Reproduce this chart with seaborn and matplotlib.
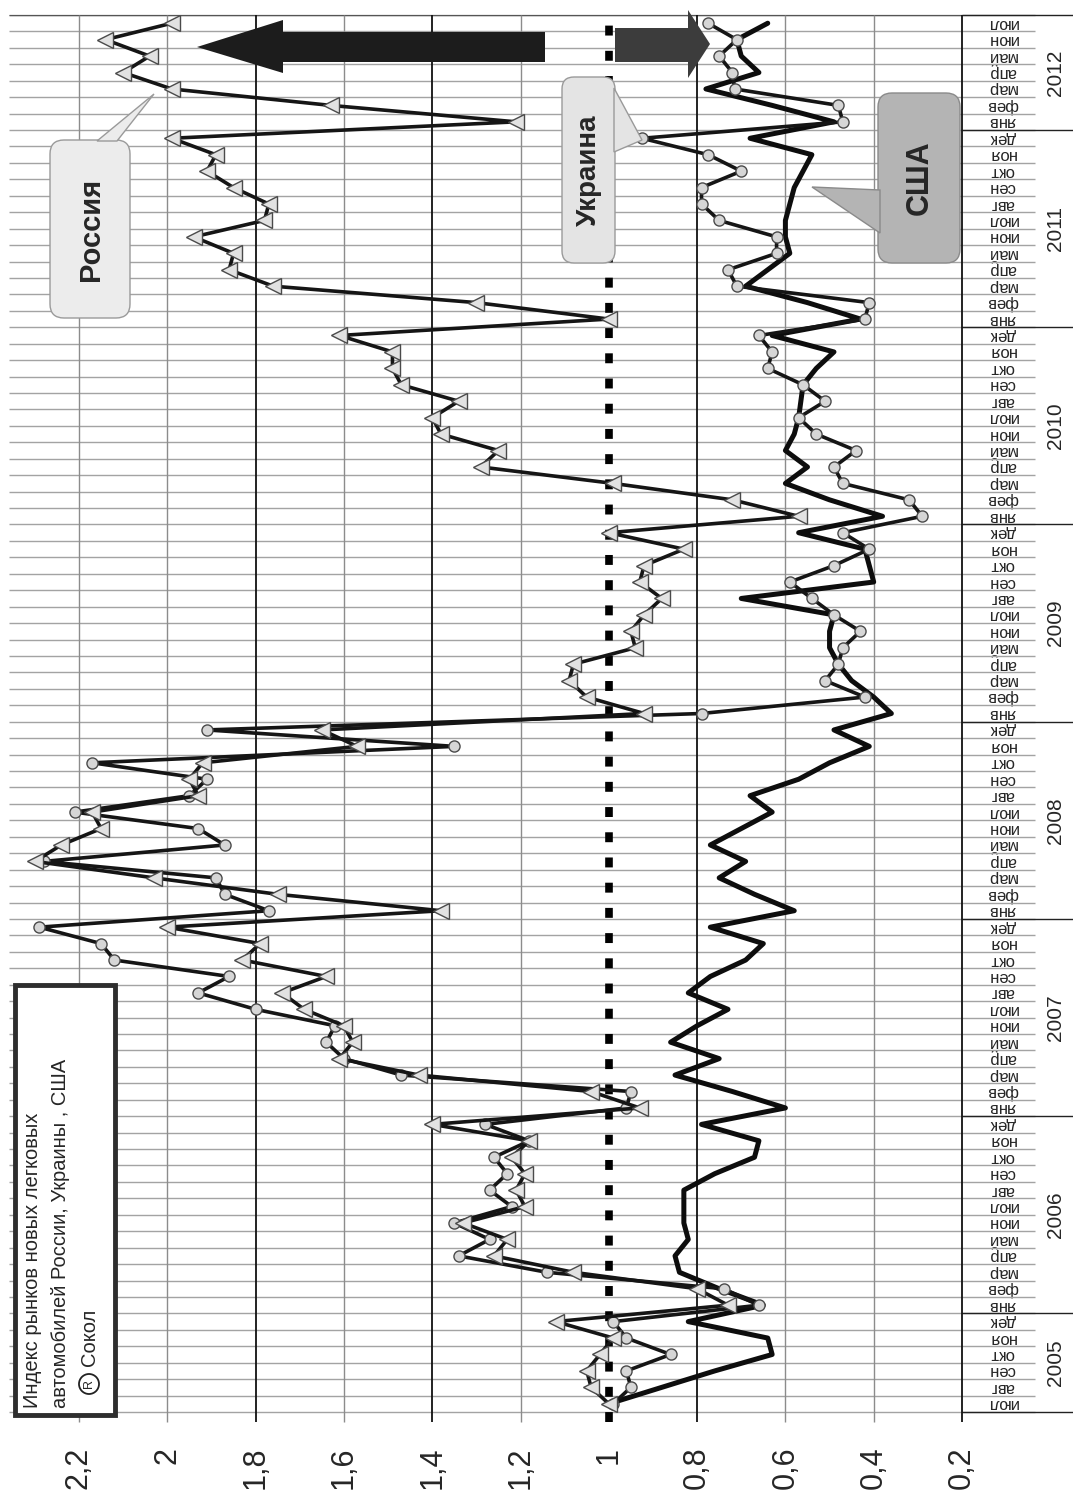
import numpy as np
import pandas as pd
import matplotlib
matplotlib.use("Agg")
import matplotlib.pyplot as plt
from matplotlib.patches import Rectangle, Polygon, FancyBboxPatch, Circle
import seaborn as sns

W, H = 1073, 1497

# months Jul 2005 .. Jul 2012
MONTHS_YEAR = ["янв", "фев", "мар", "апр", "май", "июн",
               "июл", "авг", "сен", "окт", "ноя", "дек"]
month_labels = MONTHS_YEAR[6:] + MONTHS_YEAR * 6 + MONTHS_YEAR[:7]
years = ["2005", "2006", "2007", "2008", "2009", "2010", "2011", "2012"]

# index values, one line per year
russia = [1.00, 1.04, 1.05, 1.02, 0.99, 1.12,
          0.73, 0.80, 1.08, 1.26, 1.23, 1.33, 1.19, 1.21, 1.19, 1.22, 1.18, 1.40,
          0.93, 1.04, 1.43, 1.61, 1.58, 1.60, 1.69, 1.74, 1.64, 1.83, 1.79, 2.00,
          1.38, 1.75, 2.03, 2.30, 2.24, 2.15, 2.17, 1.93, 1.95, 1.92, 1.57, 1.65,
          0.92, 1.05, 1.09, 1.08, 0.94, 0.95, 0.92, 0.88, 0.93, 0.92, 0.83, 1.00,
          0.57, 0.72, 0.99, 1.29, 1.25, 1.38, 1.40, 1.34, 1.47, 1.49, 1.49, 1.61,
          1.00, 1.30, 1.76, 1.86, 1.85, 1.94, 1.78, 1.77, 1.85, 1.91, 1.89, 1.99,
          1.21, 1.63, 1.99, 2.10, 2.04, 2.14, 1.99]
ukraine = [0.99, 0.95, 0.96, 0.86, 0.96, 0.99,
           0.66, 0.74, 1.14, 1.34, 1.27, 1.35, 1.22, 1.27, 1.23, 1.26, 1.18, 1.28,
           0.96, 0.95, 1.47, 1.60, 1.64, 1.62, 1.80, 1.93, 1.86, 2.12, 2.15, 2.29,
           1.77, 1.87, 1.89, 2.28, 1.87, 1.93, 2.21, 1.95, 1.91, 2.17, 1.35, 1.91,
           0.79, 0.42, 0.51, 0.48, 0.47, 0.43, 0.49, 0.54, 0.59, 0.49, 0.41, 0.47,
           0.29, 0.32, 0.47, 0.49, 0.44, 0.53, 0.57, 0.51, 0.56, 0.64, 0.63, 0.66,
           0.42, 0.41, 0.71, 0.73, 0.62, 0.62, 0.75, 0.79, 0.79, 0.70, 0.775, 0.925,
           0.47, 0.48, 0.715, 0.72, 0.75, 0.71, 0.775]
usa = [1.00, 0.88, 0.76, 0.63, 0.64, 0.82,
       0.65, 0.75, 0.84, 0.85, 0.82, 0.83, 0.83, 0.83, 0.76, 0.67, 0.66, 0.79,
       0.60, 0.72, 0.85, 0.75, 0.86, 0.80, 0.73, 0.82, 0.77, 0.69, 0.65, 0.77,
       0.58, 0.67, 0.75, 0.69, 0.77, 0.70, 0.63, 0.68, 0.57, 0.50, 0.41, 0.49,
       0.36, 0.40, 0.45, 0.48, 0.50, 0.50, 0.49, 0.70, 0.40, 0.41, 0.42, 0.57,
       0.38, 0.50, 0.60, 0.55, 0.60, 0.58, 0.57, 0.565, 0.56, 0.53, 0.49, 0.63,
       0.43, 0.55, 0.69, 0.64, 0.59, 0.60, 0.60, 0.59, 0.58, 0.56, 0.54, 0.68,
       0.49, 0.63, 0.78, 0.66, 0.70, 0.71, 0.64]

value_ticks = [2.2, 2.0, 1.8, 1.6, 1.4, 1.2, 1.0, 0.8, 0.6, 0.4, 0.2]
value_labels = ["2,2", "2", "1,8", "1,6", "1,4", "1,2", "1", "0,8", "0,6", "0,4", "0,2"]

sns.set_theme(style="white")
plt.rcParams["font.family"] = ["Liberation Sans", "DejaVu Sans"]

n = len(month_labels)
df = pd.DataFrame({"month": np.arange(n), "Россия": russia,
                   "Украина": ukraine, "США": usa})

fig = plt.figure(figsize=(W / 100, H / 100), dpi=100)
fig.patch.set_facecolor("white")

# plot area in pixels (chart is turned on its side: time runs upward)
L, R, T, B = 9, 962, 15, 1412
ax = fig.add_axes([L / W, 1 - B / H, (R - L) / W, (B - T) / H])
PPU = 441.5  # pixels per unit of index


def px2val(x):
    return 0.2 + (R - x) / PPU


ax.set_xlim(px2val(L), 0.2)
ax.set_ylim(-0.5, n - 0.5)
for s in ax.spines.values():
    s.set_visible(False)
ax.set_facecolor("white")

# month grid + separators in the label column
ax.hlines(np.arange(-0.5, n), px2val(L), px2val(1035), colors="#a3a3a3",
          lw=1.0, clip_on=False, zorder=1)
year_bounds = [5.5 + 12 * k for k in range(7)]
ax.hlines(year_bounds + [-0.5, n - 0.5], 0.2, px2val(W), colors="#222222",
          lw=1.0, clip_on=False, zorder=1)
ax.hlines([n - 0.5], px2val(L), 0.2, colors="#555555", lw=1.0, zorder=1)

# value grid
for v in value_ticks:
    if abs(v - 1.0) < 1e-6:
        continue
    dark = any(abs(v - d) < 1e-6 for d in (1.8, 1.4, 0.8, 0.2))
    ax.vlines(v, -1.1, n - 0.5, colors="#111111" if dark else "#8c8c8c",
              lw=1.3 if dark else 1.0, clip_on=False, zorder=1)
ax.vlines(1.0, -1.1, n - 0.5, colors="black", lw=5.5,
          linestyles=(0, (1.3, 2.0)), clip_on=False, zorder=4)

# series
sns.lineplot(data=df, x="США", y="month", orient="y", estimator=None,
             color="#0d0d0d", lw=3.6, ax=ax, zorder=3, legend=False)
sns.lineplot(data=df, x="Украина", y="month", orient="y", estimator=None,
             color="#151515", lw=2.6, marker="o", markersize=8,
             markerfacecolor="#d6d6d6", markeredgecolor="#4a4a4a",
             markeredgewidth=1.0, ax=ax, zorder=5, legend=False)
sns.lineplot(data=df, x="Россия", y="month", orient="y", estimator=None,
             color="#151515", lw=2.6, marker="<", markersize=11,
             markerfacecolor="#e2e2e2", markeredgecolor="#4a4a4a",
             markeredgewidth=1.0, ax=ax, zorder=6, legend=False)

# axis labels
ax.set_xticks(value_ticks)
ax.set_xticklabels(value_labels, rotation=90, fontsize=22)
ax.tick_params(axis="x", length=0, pad=25)
ax.set_xlabel("")
ax.yaxis.tick_right()
ax.set_yticks(np.arange(n))
ax.set_yticklabels(month_labels, rotation=180, fontsize=12)
ax.tick_params(axis="y", length=0, pad=29)
for lab in ax.get_yticklabels():
    lab.set_horizontalalignment("center")
    lab.set_verticalalignment("center")
ax.set_ylabel("")
for k, yr in enumerate(years):
    lo = 0 if k == 0 else 6 + 12 * (k - 1)
    hi = min(lo + (6 if k == 0 else 12), n) - 1
    ax.text(px2val(1056), (lo + hi) / 2, yr, rotation=90, fontsize=15,
            ha="center", va="center", clip_on=False)

# overlay in pixel coordinates for notes
ov = fig.add_axes([0, 0, 1, 1], zorder=10)
ov.set_xlim(0, W)
ov.set_ylim(H, 0)
ov.axis("off")
ov.patch.set_alpha(0)

# arrows
ov.add_patch(Polygon([(545, 32), (283, 32), (283, 20), (197, 47), (283, 73),
                      (283, 62), (545, 62)], closed=True, fc="#1c1c1c", ec="none"))
ov.add_patch(Polygon([(615, 28), (688, 28), (688, 10), (710, 44), (688, 78),
                      (688, 62), (615, 62)], closed=True, fc="#3c3c3c", ec="none"))

# callouts
ov.add_patch(FancyBboxPatch((50, 140), 80, 178,
                            boxstyle="round,pad=0,rounding_size=14",
                            fc="#ececec", ec="#9a9a9a", lw=1))
ov.add_patch(Polygon([(97, 141), (154, 94), (117, 141)], closed=True,
                     fc="#ececec", ec="#9a9a9a", lw=1))
ov.text(91, 229, "Россия", rotation=90, fontsize=21, fontweight="bold",
        ha="center", va="center")

ov.add_patch(FancyBboxPatch((562, 77), 53, 186,
                            boxstyle="round,pad=0,rounding_size=12",
                            fc="#e4e4e4", ec="#9a9a9a", lw=1))
ov.add_patch(Polygon([(614, 88), (642, 140), (614, 152)], closed=True,
                     fc="#e4e4e4", ec="#9a9a9a", lw=1))
ov.text(589, 170, "Украина", rotation=90, fontsize=20, fontweight="bold",
        ha="center", va="center")

ov.add_patch(FancyBboxPatch((878, 93), 82, 170,
                            boxstyle="round,pad=0,rounding_size=14",
                            fc="#b4b4b4", ec="#8a8a8a", lw=1))
ov.add_patch(Polygon([(880, 190), (812, 187), (880, 233)], closed=True,
                     fc="#b4b4b4", ec="#8a8a8a", lw=1))
ov.text(920, 178, "США", rotation=90, fontsize=22, fontweight="bold",
        ha="center", va="center")

# title box
ov.add_patch(Rectangle((15, 985), 100, 430, fc="white", ec="#2e2e2e", lw=3.5))
ov.text(33, 1408, "Индекс рынков новых легковых", rotation=90, fontsize=14.5,
        ha="center", va="bottom")
ov.text(61, 1408, "автомобилей России, Украины , США", rotation=90,
        fontsize=14.5, ha="center", va="bottom")
ov.add_patch(Circle((89, 1384), 10, fc="white", ec="#222222", lw=1.3))
ov.text(89, 1384, "R", rotation=90, fontsize=9, ha="center", va="center")
ov.text(89, 1366, "Сокол", rotation=90, fontsize=14.5, ha="center", va="bottom")

fig.savefig("out.png", dpi=100)
